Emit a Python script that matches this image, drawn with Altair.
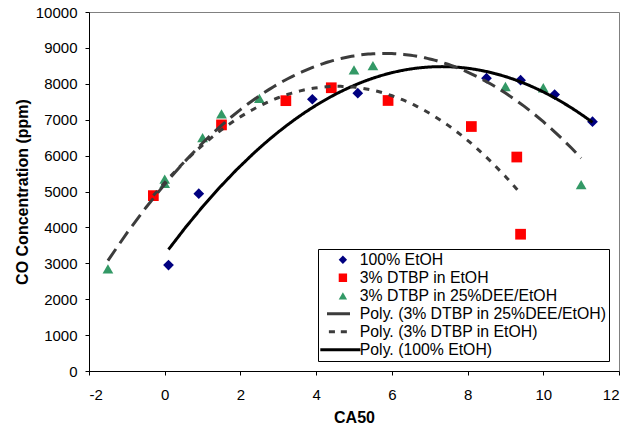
import altair as alt
import pandas as pd

# ---- data ----
S1 = "100% EtOH"
S2 = "3% DTBP in EtOH"
S3 = "3% DTBP in 25%DEE/EtOH"
P3 = "Poly. (3% DTBP in 25%DEE/EtOH)"
P2 = "Poly. (3% DTBP in EtOH)"
P1 = "Poly. (100% EtOH)"

etoh_x = [0.1, 0.9, 3.9, 5.1, 8.5, 9.4, 10.3, 11.3]
etoh_y = [2950, 4940, 7570, 7740, 8155, 8100, 7700, 6945]

dtbp_x = [-0.3, 1.5, 3.2, 4.4, 5.9, 8.1, 9.3, 9.4]
dtbp_y = [4885, 6855, 7530, 7890, 7535, 6810, 5960, 3810]

dee_x = [-1.5, 0.0, 0.0, 1.0, 1.5, 2.5, 5.0, 5.5, 9.0, 10.0, 11.0]
dee_y = [2845, 5345, 5225, 6500, 7165, 7595, 8390, 8505, 7925, 7890, 5190]

x_ticks = [-2, 0, 2, 4, 6, 8, 10, 12]
y_ticks = [0, 1000, 2000, 3000, 4000, 5000, 6000, 7000, 8000, 9000, 10000]

legend_order = [S1, S2, S3, P3, P2, P1]
fill_colors = ["#000080", "#FF0000", "#339966", "transparent", "transparent", "transparent"]
stroke_colors = ["transparent", "transparent", "transparent", "#3c3c3c", "#3c3c3c", "#000000"]
legend_shapes = [
    "diamond", "square", "triangle-up",
    "M-3.8,0H1.7",
    "M-3.35,0H-1.9M-0.5,0H0.95",
    "M-5.4,0H4.2",
]

rows = []
for name, xs, ys in [(S1, etoh_x, etoh_y), (S2, dtbp_x, dtbp_y), (S3, dee_x, dee_y)]:
    for a, b in zip(xs, ys):
        rows.append({"series": name, "CA50": a, "CO": b})
df = pd.DataFrame(rows)

FONT = "Liberation Sans"

color_scale = alt.Scale(domain=legend_order, range=fill_colors)
stroke_scale = alt.Scale(domain=legend_order, range=stroke_colors)
shape_scale = alt.Scale(domain=legend_order, range=legend_shapes)
dash_scale = alt.Scale(domain=[S3, S2, S1], range=[[14, 7], [6, 7], [1, 0]])

legend = alt.Legend(
    title=None,
    orient="none",
    legendX=229,
    legendY=237,
    direction="vertical",
    padding=2,
    fillColor="white",
    strokeColor="black",
    cornerRadius=0,
    symbolSize=70,
    symbolOffset=15,
    symbolStrokeWidth=3,
    symbolDash=[1, 0],
    labelOffset=9,
    clipHeight=17.6,
    rowPadding=0,
    labelFont=FONT,
    labelFontSize=15.8,
    labelColor="black",
    labelLimit=400,
    symbolOpacity=1,
)

x_enc = alt.X(
    "CA50:Q",
    scale=alt.Scale(domain=[-2, 12], nice=False, zero=False),
    axis=alt.Axis(
        values=x_ticks, title="CA50", grid=False, tickSize=4, labelPadding=12,
        titleY=51, titleBaseline="alphabetic",
        labelExpr="datum.value < 0 ? '-' + abs(datum.value) : '' + datum.value",
    ),
)
y_enc = alt.Y(
    "CO:Q",
    scale=alt.Scale(domain=[0, 10000], nice=False),
    axis=alt.Axis(
        values=y_ticks, title="CO Concentration (ppm)", grid=False, tickSize=4,
        labelPadding=8, titleX=-62, titleBaseline="alphabetic", format="d",
    ),
)

points = alt.Chart(df).mark_point(filled=True, opacity=1, size=115).encode(
    x=x_enc,
    y=y_enc,
    color=alt.Color("series:N", scale=color_scale, legend=legend),
    shape=alt.Shape("series:N", scale=shape_scale, legend=legend),
    stroke=alt.Stroke("series:N", scale=stroke_scale, legend=legend),
)

lines = (
    alt.Chart(df)
    .transform_regression("CA50", "CO", groupby=["series"], method="poly", order=2)
    .transform_calculate(dashkey="datum.series")
    .transform_calculate(series="'Poly. (' + datum.dashkey + ')'")
    .mark_line(strokeWidth=3)
    .encode(
        x=x_enc,
        y=y_enc,
        stroke=alt.Stroke("series:N", scale=stroke_scale, legend=legend),
        strokeDash=alt.StrokeDash("dashkey:N", scale=dash_scale, legend=None),
    )
)

chart = (
    alt.layer(points, lines)
    .properties(
        width=530,
        height=359,
        autosize=alt.AutoSizeParams(type="none"),
        padding={"left": 89, "top": 12, "right": 22, "bottom": 54},
        background="white",
    )
    .configure_view(stroke="#808080", strokeWidth=1)
    .configure_axis(
        labelFont=FONT, labelFontSize=15, labelColor="black",
        titleFont=FONT, titleFontSize=16, titleFontWeight="bold", titleColor="black",
        domainColor="black", tickColor="black", domainWidth=1, tickWidth=1,
    )
)

chart.save("out.html", embed_options={"renderer": "svg", "actions": False})
